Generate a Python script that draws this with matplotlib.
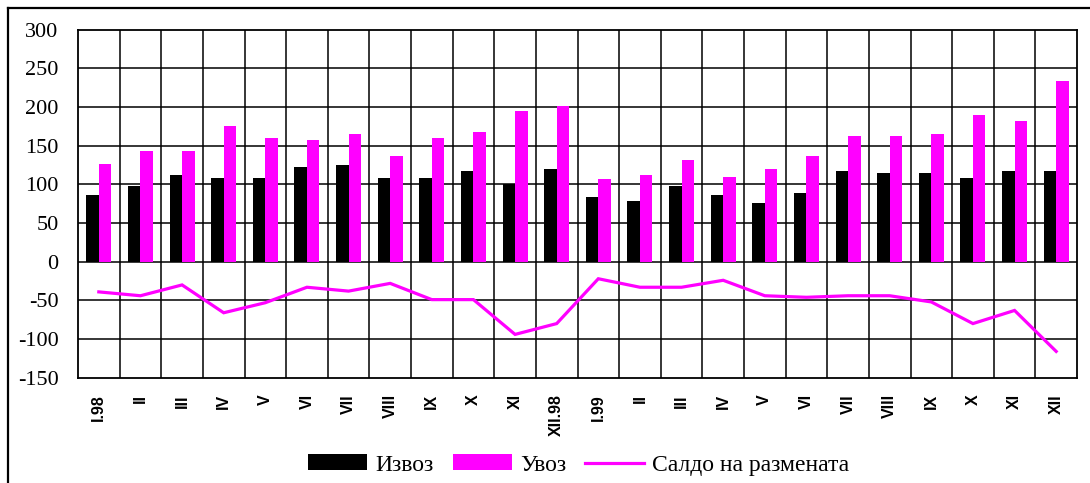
import matplotlib
matplotlib.use("Agg")
import matplotlib.pyplot as plt
from matplotlib.lines import Line2D
import numpy as np

categories = ["I.98", "II", "III", "IV", "V", "VI", "VII", "VIII", "IX", "X", "XI", "XII.98",
              "I.99", "II", "III", "IV", "V", "VI", "VII", "VIII", "IX", "X", "XI", "XII"]
export_vals = [86, 98, 112, 108, 108, 122, 125, 108, 108, 117, 100, 120,
               84, 78, 98, 86, 76, 89, 117, 115, 115, 108, 117, 117]
import_vals = [126, 143, 143, 175, 160, 157, 165, 137, 160, 168, 195, 201,
               107, 112, 132, 109, 120, 137, 162, 162, 165, 190, 182, 234]
balance_vals = [-39, -44, -30, -66, -53, -33, -38, -28, -49, -49, -94, -80,
                -22, -33, -33, -24, -44, -46, -44, -44, -52, -80, -63, -116]

labels = ["Извоз", "Увоз", "Салдо на размената"]
MAG = "#FF00FF"

fig = plt.figure(figsize=(10.9, 4.83), dpi=100)
ax = fig.add_axes([78 / 1090, 1 - 377.7 / 483, (1077 - 78) / 1090, (377.7 - 29.8) / 483])

x = np.arange(len(categories))
w = 0.30
h1 = ax.bar(x - w / 2, export_vals, width=w, color="black", label=labels[0], zorder=3)
h2 = ax.bar(x + w / 2, import_vals, width=w, color=MAG, label=labels[1], zorder=3)
h3, = ax.plot(x, balance_vals, color=MAG, lw=2.3, label=labels[2], zorder=4, solid_joinstyle="miter")

ax.set_xlim(-0.5, len(categories) - 0.5)
ax.set_ylim(-150, 300)
ax.set_yticks(np.arange(-150, 301, 50))
ax.set_yticklabels([str(v) for v in range(-150, 301, 50)], family="Liberation Serif", fontsize=16)

ax.set_xticks(x)
ax.set_xticklabels(categories, rotation=90, family="Liberation Sans", fontweight="bold",
                   fontsize=11.5, va="top", ha="center")
ax.tick_params(axis="x", length=0, pad=12)
ax.tick_params(axis="y", length=0, pad=14)

for v in range(-100, 300, 50):
    ax.axhline(v, color="black", lw=1.1, zorder=1)
for b in np.arange(0.5, len(categories) - 1, 1.0):
    ax.axvline(b, color="black", lw=1.1, zorder=1)
for s in ax.spines.values():
    s.set_color("black")
    s.set_linewidth(1.3)

# outer border (top & left visible)
fig.add_artist(Line2D([7.5 / 1090, 7.5 / 1090], [0, 1 - 8 / 483], transform=fig.transFigure,
                      color="black", lw=1.6))
fig.add_artist(Line2D([7.5 / 1090, 1], [1 - 8 / 483, 1 - 8 / 483], transform=fig.transFigure,
                      color="black", lw=1.6))

fig.legend([h1, h2, h3], labels, loc="center", bbox_to_anchor=(579 / 1090, 1 - 465 / 483), ncol=3,
           frameon=False, prop={"family": "Liberation Serif", "size": 17},
           handlelength=2.5, handleheight=0.65, columnspacing=0.8, handletextpad=0.35)

fig.savefig("out.png", dpi=100)
